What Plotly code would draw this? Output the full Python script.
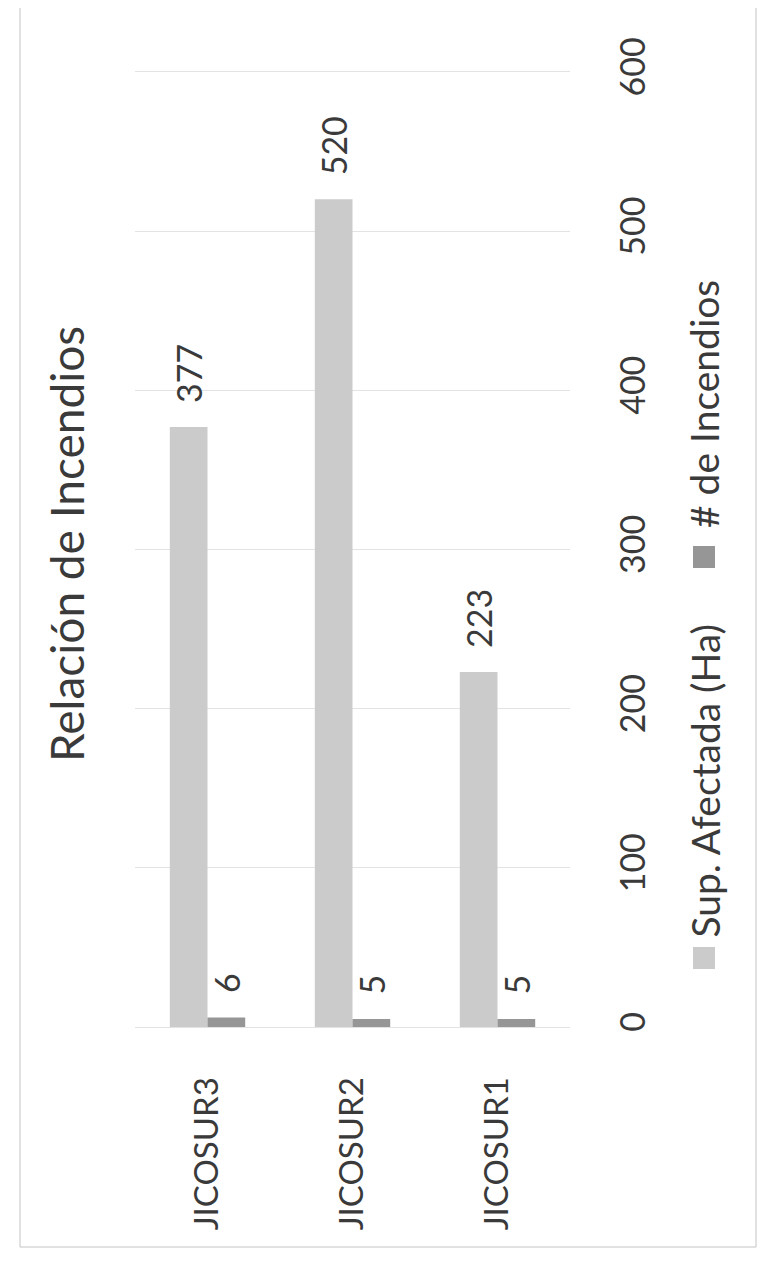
import plotly.graph_objects as go

# data
zonas = ["JICOSUR3", "JICOSUR2", "JICOSUR1"]
superficie = [377, 520, 223]   # Sup. Afectada (Ha)
incendios = [6, 5, 5]          # # de Incendios
y_ticks = [0, 100, 200, 300, 400, 500, 600]

FONT = "Lato"
TXT = "#3a3a3a"
LIGHT = "#cbcbcb"
DARK = "#969696"
GRID = "#e3e3e3"

# the page puts the figure 8px in from the top-left corner
OFF = 8
SW, SH = 767, 1264
W, H = SW - OFF, SH - OFF
# plot area in screen pixels
X0, X1, Y0, Y1 = 135, 570, 72, 1027
ML, MR, MT, MB = X0 - OFF, SW - X1, Y0 - OFF, SH - Y1

fig = go.Figure()
fig.add_trace(go.Bar(x=zonas, y=superficie, name="Sup. Afectada (Ha)",
                     marker=dict(color=LIGHT, line_width=0)))
fig.add_trace(go.Bar(x=zonas, y=incendios, name="# de Incendios",
                     marker=dict(color=DARK, line_width=0)))

# data labels, rotated like the rest of the scan
annotations = []
for i, z in enumerate(zonas):
    for val, shift in ((superficie[i], -19), (incendios[i], 19)):
        annotations.append(dict(x=z, y=val, xref="x", yref="y", text=str(val),
                                showarrow=False, textangle=-90, xshift=shift,
                                yanchor="bottom", yshift=22,
                                font=dict(family=FONT, size=34, color=TXT)))


def px(xs):
    return (xs - X0) / (X1 - X0)


def py(ys):
    return (Y1 - ys) / (Y1 - Y0)


# title
annotations.append(dict(x=px(66), y=py(544), xref="paper", yref="paper",
                        text="Relación de Incendios", showarrow=False, textangle=-90,
                        xanchor="center", yanchor="middle",
                        font=dict(family=FONT, size=46, color=TXT)))

# legend (rotated, so drawn by hand)
legend_items = [("Sup. Afectada (Ha)", LIGHT, 958, 940), ("# de Incendios", DARK, 557, 530)]
shapes = []
for label, col, sq_y, txt_y in legend_items:
    shapes.append(dict(type="rect", xref="paper", yref="paper",
                       xsizemode="pixel", ysizemode="pixel",
                       xanchor=px(704), yanchor=py(sq_y),
                       x0=-11, x1=11, y0=-11, y1=11,
                       fillcolor=col, line_width=0))
    annotations.append(dict(x=px(704), y=py(txt_y), xref="paper", yref="paper",
                            text=label, showarrow=False, textangle=-90,
                            xanchor="center", yanchor="bottom",
                            font=dict(family=FONT, size=39, color=TXT)))

# chart border
shapes.append(dict(type="rect", xref="paper", yref="paper",
                   x0=px(20), x1=px(756), y0=py(1247), y1=py(5),
                   line=dict(color="#c4c4c4", width=1), fillcolor="rgba(0,0,0,0)"))

fig.update_layout(
    width=W, height=H,
    margin=dict(l=ML, r=MR, t=MT, b=MB, autoexpand=False),
    paper_bgcolor="white", plot_bgcolor="white",
    barmode="group", bargap=0.48, bargroupgap=0,
    showlegend=False,
    font=dict(family=FONT, color=TXT),
    xaxis=dict(tickangle=-90, tickfont=dict(size=33, color=TXT),
               showgrid=False, showline=True, mirror=True, linecolor=GRID,
               linewidth=1, ticks="", automargin=False, ticklabelstandoff=36),
    yaxis=dict(side="right", range=[0, 600], tickvals=y_ticks, tickangle=-90,
               tickfont=dict(size=34, color=TXT), showgrid=True,
               gridcolor=GRID, gridwidth=1, zeroline=False, showline=False,
               automargin=False, ticklabelstandoff=40),
    annotations=annotations,
    shapes=shapes,
)

fig.write_html("out.html")
